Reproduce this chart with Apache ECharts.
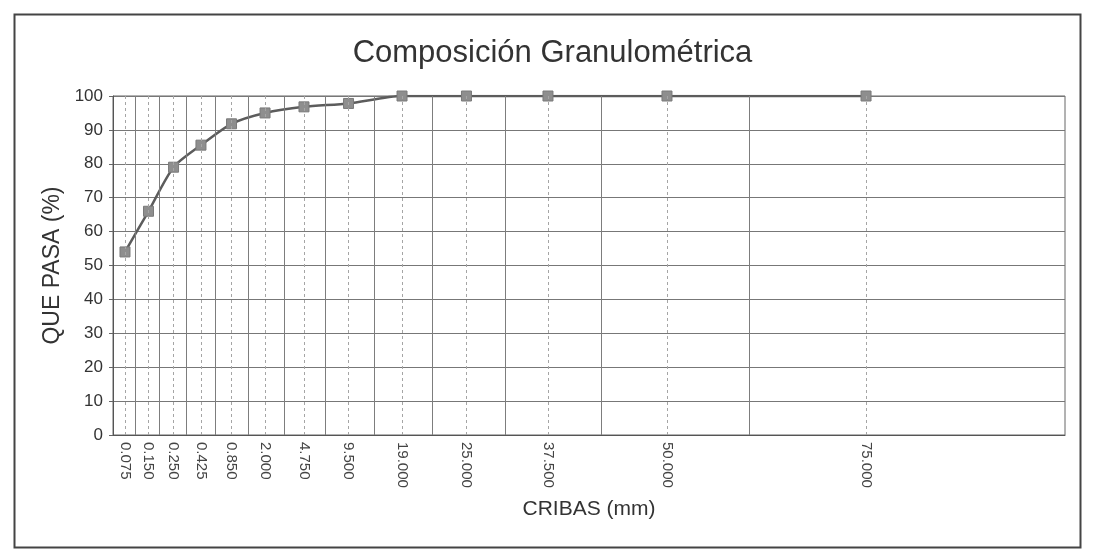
<!DOCTYPE html>
<html>
<head>
<meta charset="utf-8">
<script src="https://cdn.jsdelivr.net/npm/echarts@6/dist/echarts.min.js"></script>
<style>
  html, body { margin: 0; padding: 0; background: #fff; }
  #chart { width: 1105px; height: 554px; }
</style>
</head>
<body>
<div id="chart"></div>
<script>
// tamaños de criba (etiquetas del eje X)
const cribas = ['0.075', '0.150', '0.250', '0.425', '0.850', '2.000', '4.750',
  '9.500', '19.000', '25.000', '37.500', '50.000', '75.000']
// posición de cada criba en el eje X del gráfico original (escala no lineal, 0-100)
const posicion = [1.26, 3.73, 6.36, 9.24, 12.45, 15.97, 20.06,
  24.74, 30.36, 37.13, 45.69, 58.19, 79.10]
// divisiones verticales continuas entre cribas
const divisiones = [2.38, 4.89, 7.71, 10.76, 14.20, 17.96, 22.34,
  27.42, 33.51, 41.18, 51.26, 66.81]
// porcentaje que pasa
const quePasa = [54, 66, 79, 85.5, 91.8, 95, 96.8, 97.8, 100, 100, 100, 100, 100]

const chart = echarts.init(document.getElementById('chart'))

const font = 'Liberation Sans, Arial, sans-serif'

function etiquetaCriba(v) {
  const i = posicion.findIndex(p => Math.abs(p - v) < 1e-6)
  return i >= 0 ? cribas[i] : ''
}

const lineasVerticales = [
  ...divisiones.map(v => ({
    xAxis: v,
    lineStyle: { color: '#7d7d7d', width: 1, type: 'solid' }
  })),
  ...posicion.map(v => ({
    xAxis: v,
    lineStyle: { color: '#a5a5a5', width: 1, type: [3, 3] }
  }))
]

const option = {
  backgroundColor: '#ffffff',
  animation: false,
  title: {
    text: 'Composición Granulométrica',
    left: 'center',
    top: 33,
    textStyle: { fontFamily: font, fontSize: 31, fontWeight: 'normal', color: '#333' }
  },
  grid: {
    left: 113,
    right: 40,
    top: 96,
    bottom: 119,
    show: true,
    borderColor: '#666',
    borderWidth: 1
  },
  xAxis: {
    type: 'value',
    min: 0,
    max: 100,
    name: 'CRIBAS (mm)',
    nameLocation: 'middle',
    nameGap: 64,
    nameTextStyle: { fontFamily: font, fontSize: 21, color: '#333' },
    axisLine: { show: true, lineStyle: { color: '#555', width: 1 } },
    axisTick: { show: false },
    splitLine: { show: false },
    axisLabel: {
      customValues: posicion,
      rotate: -90,
      margin: 7,
      fontFamily: font,
      fontSize: 15,
      color: '#444',
      formatter: etiquetaCriba
    }
  },
  yAxis: {
    type: 'value',
    min: 0,
    max: 100,
    interval: 10,
    name: 'QUE PASA (%)',
    nameLocation: 'middle',
    nameRotate: 90,
    nameGap: 48,
    nameTextStyle: { fontFamily: font, fontSize: 23, color: '#333' },
    axisLine: { show: true, lineStyle: { color: '#555', width: 1 } },
    axisTick: { show: true, length: 4, lineStyle: { color: '#666' } },
    axisLabel: { fontFamily: font, fontSize: 17, color: '#333', margin: 10 },
    splitLine: { show: true, lineStyle: { color: '#777', width: 1 } }
  },
  graphic: [{
    type: 'rect',
    left: 12,
    top: 12,
    shape: { width: 1066, height: 533 },
    style: { fill: 'none', stroke: '#444', lineWidth: 2 },
    silent: true,
    z: 100
  }],
  series: [
    {
      type: 'line',
      data: [],
      z: 1,
      silent: true,
      markLine: {
        silent: true,
        symbol: ['none', 'none'],
        label: { show: false },
        animation: false,
        data: lineasVerticales
      }
    },
    {
      type: 'line',
      z: 3,
      data: posicion.map((p, i) => [p, quePasa[i]]),
      smooth: 0.25,
      symbol: 'rect',
      symbolSize: 10,
      lineStyle: { color: '#5c5c5c', width: 2.5 },
      itemStyle: { color: '#8e8e8e', borderColor: '#7a7a7a', borderWidth: 1 }
    }
  ]
}

chart.setOption(option)
window.addEventListener('resize', () => chart.resize())
</script>
</body>
</html>
